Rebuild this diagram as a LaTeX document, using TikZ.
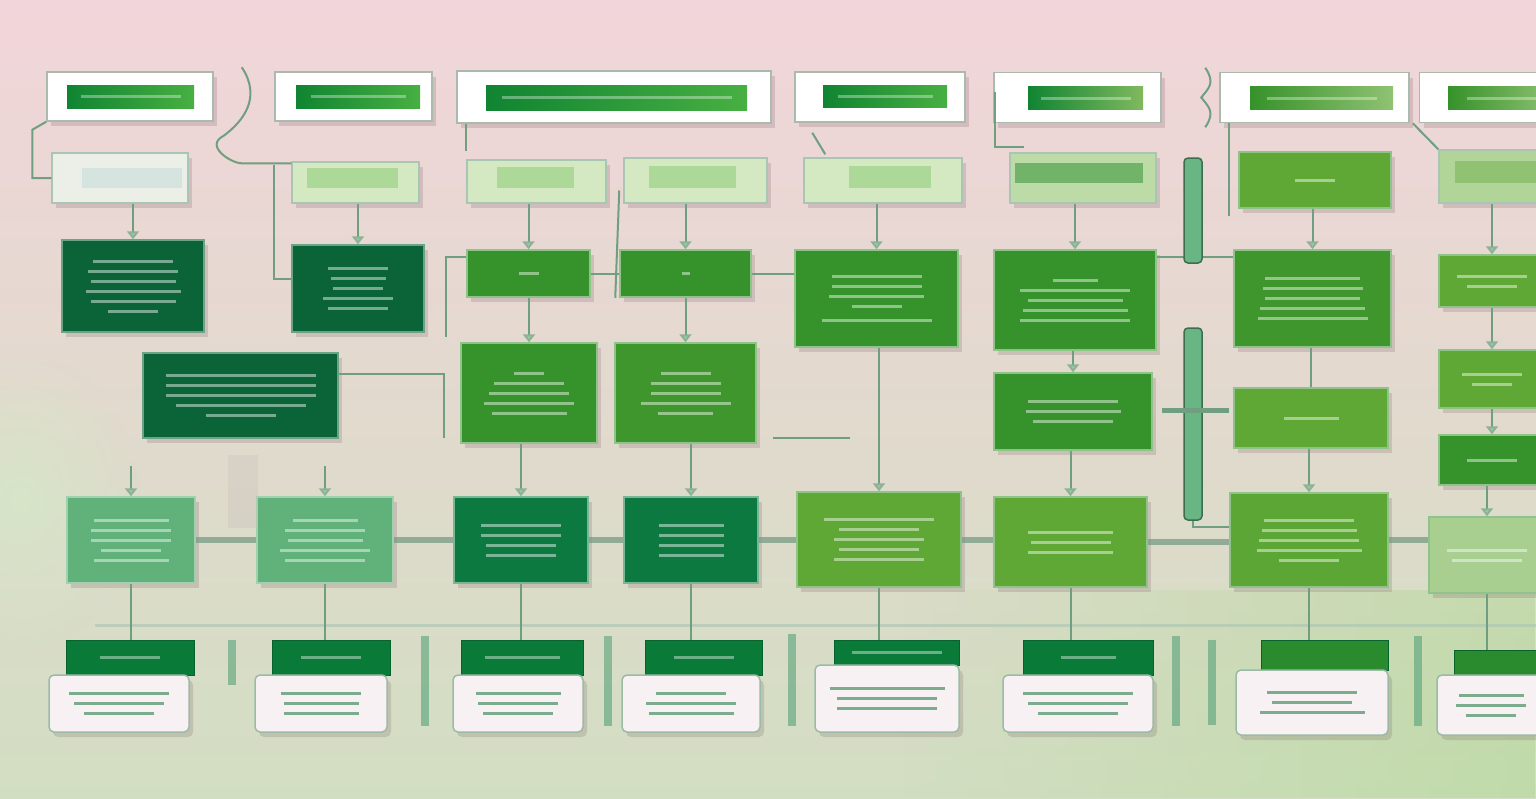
\documentclass[tikz,border=0pt]{standalone}
\usepackage{tikz}
\usetikzlibrary{calc,positioning,arrows.meta,shadows,fadings}

\definecolor{bgpink}{RGB}{242,213,218}
\definecolor{bgmid}{RGB}{236,221,214}
\definecolor{bggreen}{RGB}{210,222,194}
\definecolor{leafgreen}{RGB}{170,215,140}
\definecolor{haze}{RGB}{214,230,200}
\definecolor{frame}{RGB}{170,186,172}
\definecolor{barleft}{RGB}{16,132,50}
\definecolor{barright}{RGB}{72,176,66}
\definecolor{palegreen}{RGB}{212,232,194}
\definecolor{paleinner}{RGB}{172,216,152}
\definecolor{ghost}{RGB}{236,238,232}
\definecolor{ghostin}{RGB}{214,228,224}
\definecolor{dkteal}{RGB}{10,100,56}
\definecolor{grass}{RGB}{54,146,42}
\definecolor{ltgrass}{RGB}{96,168,54}
\definecolor{sage}{RGB}{96,178,122}
\definecolor{forest}{RGB}{12,122,64}
\definecolor{cardhead}{RGB}{10,122,56}
\definecolor{cardbody}{RGB}{247,241,243}
\definecolor{wire}{RGB}{112,158,128}
\definecolor{tipgreen}{RGB}{150,210,140}
\definecolor{fillertxt}{RGB}{110,165,130}
\definecolor{pillgreen}{RGB}{104,182,132}

\newcommand\fakeline[1]{\rule{#1pt}{3pt}}
\tikzfading[name=softglow, inner color=transparent!0, outer color=transparent!100]

\tikzset{
  sz/.style 2 args={minimum width=#1pt, minimum height=#2pt},
  box/.style={rectangle, inner sep=0pt, align=center,
    font=\fontsize{3}{10}\selectfont, text=white, text opacity=0.45,
    line width=1.5pt,
    drop shadow={shadow xshift=4pt, shadow yshift=-5pt, opacity=0.18, fill=black!70!magenta}},
  header/.style={box, fill=white, draw=frame},
  hbar/.style={rectangle, inner sep=0pt, font=\fontsize{3}{10}\selectfont,
    left color=barleft, right color=barright, text=white, text opacity=0.35},
  pale/.style={box, fill=palegreen, draw=wire!60},
  inner/.style={rectangle, inner sep=0pt, fill=paleinner},
  deep/.style={box, fill=dkteal, draw=dkteal!60!white},
  leafy/.style={box, fill=grass, draw=grass!55!white},
  soft/.style={box, fill=sage, draw=sage!60!white},
  dark/.style={box, fill=forest, draw=forest!55!white},
  cardtop/.style={rectangle, inner sep=0pt, fill=cardhead, draw=cardhead!80!black,
    line width=1pt, font=\fontsize{3}{10}\selectfont, text=white, text opacity=0.4},
  card/.style={box, rounded corners=5pt, fill=cardbody, draw=wire!70, text=fillertxt, text opacity=0.9},
  pill/.style={rectangle, rounded corners=4pt, fill=pillgreen, draw=pillgreen!60!black, line width=1.5pt},
  wire/.style={draw=wire, line width=2pt},
  link/.style={wire, -{Triangle[width=12pt,length=8pt,fill=tipgreen,color=wire!80]}},
  bridge/.style={draw=wire!80!gray, line width=6pt, opacity=0.7},
  bus/.style={draw=wire!60, line width=3pt, opacity=0.6},
  sep/.style={fill=forest!70!white, opacity=0.6}
}

\begin{document}
\begin{tikzpicture}[x=1pt,y=-1pt]
  \useasboundingbox (0,0) rectangle (1536,798);
  \clip (0,0) rectangle (1536,798);
  \shade[top color=bgpink, middle color=bgmid, bottom color=bggreen] (0,0) rectangle (1536,798);
  \fill[leafgreen, opacity=0.45, path fading=west] (900,590) rectangle (1536,798);
  \fill[haze, opacity=0.9, path fading=softglow] (20,500) ellipse (120 and 150);

  % top row
  \node[header, sz={166}{49}] (h1) at (130,96.5) {};
  \node[hbar, sz={127}{23}] (h1b) at (130.5,96.5) {\fakeline{100}};
  \node[header, sz={157}{49}] (h2) at (353.5,96.5) {};
  \node[hbar, sz={124}{23}] (h2b) at (358,96.5) {\fakeline{95}};
  \node[header, sz={314}{52}] (h3) at (614,97) {};
  \node[hbar, sz={261}{25}] (h3b) at (616.5,97.5) {\fakeline{230}};
  \node[header, sz={170}{50}] (h4) at (880,97) {};
  \node[hbar, sz={124}{22}] (h4b) at (885,96.5) {\fakeline{95}};
  \node[header, sz={167}{50}] (h5) at (1077.5,97.5) {};
  \node[hbar, sz={115}{23}, right color=ltgrass!80!white] (h5b) at (1085.5,98) {\fakeline{90}};
  \node[header, sz={189}{50}] (h6) at (1314.5,97.5) {};
  \node[hbar, sz={143}{23}, left color=grass, right color=ltgrass!70!white] (h6b) at (1321.5,98) {\fakeline{110}};
  \node[header, sz={125}{50}] (h7) at (1482,97.5) {};
  \node[hbar, sz={108}{23}, left color=grass, right color=ltgrass!70!white] (h7b) at (1502,98) {\fakeline{70}};

  % second row
  \node[pale, fill=ghost, sz={136}{50}] (r2a) at (120,178) {};
  \node[inner, fill=ghostin, sz={100}{20}] (r2ai) at (132,178) {};
  \node[pale, sz={127}{41}] (r2b) at (355.5,182.5) {};
  \node[inner, sz={91}{20}] (r2bi) at (352.5,178) {};
  \node[pale, sz={139}{43}] (r2c) at (536.5,181.5) {};
  \node[inner, sz={77}{21}] (r2ci) at (535.5,177.5) {};
  \node[pale, sz={143}{45}] (r2d) at (695.5,180.5) {};
  \node[inner, sz={87}{22}] (r2di) at (692.5,177) {};
  \node[pale, sz={158}{45}] (r2e) at (883,180.5) {};
  \node[inner, sz={82}{22}] (r2ei) at (890,177) {};
  \node[pale, fill=palegreen!80!ltgrass, sz={146}{50}] (r2f) at (1083,178) {};
  \node[inner, fill=grass!70!white, sz={128}{20}] (r2fi) at (1079,173) {};
  \node[leafy, fill=ltgrass, sz={152}{56}] (r2g) at (1315,180) {\fakeline{40}};
  \node[pale, fill=palegreen!70!ltgrass, sz={106}{53}] (r2h) at (1492,176.5) {};
  \node[inner, fill=ltgrass!70!white, sz={90}{22}] (r2hi) at (1500,172) {};

  % third row
  \node[deep, sz={142}{92}] (r3a) at (133,286) {\fakeline{80}\\\fakeline{90}\\\fakeline{85}\\\fakeline{95}\\\fakeline{85}\\\fakeline{50}};
  \node[deep, sz={132}{87}] (r3b) at (358,288.5) {\fakeline{60}\\\fakeline{55}\\\fakeline{50}\\\fakeline{70}\\\fakeline{60}};
  \node[leafy, sz={123}{47}] (r3c) at (528.5,273.5) {\fakeline{20}};
  \node[leafy, sz={131}{47}] (r3d) at (685.5,273.5) {\fakeline{8}};
  \node[leafy, sz={163}{97}] (r3e) at (876.5,298.5) {\fakeline{90}\\\fakeline{90}\\\fakeline{95}\\\fakeline{50}\\[4pt]\fakeline{110}};
  \node[leafy, sz={162}{100}] (r3f) at (1075,300) {\fakeline{45}\\\fakeline{110}\\\fakeline{95}\\\fakeline{105}\\\fakeline{110}};
  \node[leafy, fill=grass!80!ltgrass, sz={157}{97}] (r3g) at (1312.5,298.5) {\fakeline{95}\\\fakeline{100}\\\fakeline{95}\\\fakeline{105}\\\fakeline{110}};
  \node[leafy, fill=ltgrass, sz={106}{52}] (r3h) at (1492,281) {\fakeline{70}\\\fakeline{50}};

  % fourth row
  \node[deep, sz={195}{85}] (r4a) at (240.5,395.5) {\fakeline{150}\\\fakeline{150}\\\fakeline{150}\\\fakeline{130}\\\fakeline{70}};
  \node[leafy, sz={136}{100}] (r4b) at (529,393) {\fakeline{30}\\\fakeline{70}\\\fakeline{80}\\\fakeline{90}\\\fakeline{75}};
  \node[leafy, fill=grass!80!ltgrass, sz={141}{100}] (r4c) at (685.5,393) {\fakeline{50}\\\fakeline{70}\\\fakeline{70}\\\fakeline{90}\\\fakeline{55}};
  \node[leafy, sz={158}{77}] (r4d) at (1073,411.5) {\fakeline{90}\\\fakeline{95}\\\fakeline{80}};
  \node[leafy, fill=ltgrass, sz={154}{60}] (r4e) at (1311,418) {\fakeline{55}};
  \node[leafy, fill=ltgrass, sz={106}{58}] (r4f) at (1492,379) {\fakeline{60}\\\fakeline{40}};
  \node[leafy, sz={106}{50}] (r4g) at (1492,460) {\fakeline{50}};

  % fifth row
  \node[soft, sz={128}{86}] (r5a) at (131,540) {\fakeline{75}\\\fakeline{80}\\\fakeline{80}\\\fakeline{60}\\\fakeline{75}};
  \node[soft, sz={136}{86}] (r5b) at (325,540) {\fakeline{65}\\\fakeline{80}\\\fakeline{75}\\\fakeline{90}\\\fakeline{80}};
  \node[dark, sz={134}{86}] (r5c) at (521,540) {\fakeline{80}\\\fakeline{80}\\\fakeline{70}\\\fakeline{70}};
  \node[dark, sz={134}{86}] (r5d) at (691,540) {\fakeline{65}\\\fakeline{65}\\\fakeline{65}\\\fakeline{65}};
  \node[leafy, fill=ltgrass, sz={164}{95}] (r5e) at (879,539.5) {\fakeline{110}\\\fakeline{80}\\\fakeline{90}\\\fakeline{80}\\\fakeline{90}};
  \node[leafy, fill=ltgrass, sz={153}{90}] (r5f) at (1070.5,542) {\fakeline{85}\\\fakeline{80}\\\fakeline{85}};
  \node[leafy, fill=ltgrass!90!grass, sz={158}{94}] (r5g) at (1309,540) {\fakeline{90}\\\fakeline{95}\\\fakeline{100}\\\fakeline{105}\\\fakeline{60}};
  \node[leafy, fill=ltgrass!55!white, sz={116}{76}] (r5h) at (1487,555) {\fakeline{80}\\\fakeline{70}};

  % pillars
  \draw[wire] ($(r3f.north east)+(0,8)$) -- ($(r3g.north west)+(0,8)$);
  \node[pill, sz={18}{105}] (p1) at (1193,210.5) {};
  \node[pill, sz={18}{192}] (p2) at (1193,424) {};
  \draw[wire, line width=5pt] ($(p2.west)+(-21,-14)$) -- ($(p2.east)+(26,-14)$);
  \draw[wire] (p2.south) |- ($(r5g.north west)+(0,35)$);

  % connectors up top
  \draw[wire] (h1.south west) -- ++(-14,8) |- (r2a.west);
  \draw[wire] ($(h1.north east)+(28,-4)$) .. controls +(20,30) and +(20,-15) .. ($(h1.south east)+(10,14)$)
    .. controls +(-20,10) and +(-10,0) .. ($(r2b.north west)+(-50,2)$) -- ($(r2b.north west)+(0,2)$);
  \draw[wire] ($(r2b.north west)+(-17,4)$) |- ($(r3b.north west)+(0,35)$);
  \draw[wire] ($(h3.south west)+(10,0)$) -- ($(r2c.north west)+(0,-8)$);
  \draw[wire] ($(h4.south west)+(18,10)$) -- ($(r2e.north west)+(22,-3)$);
  \draw[wire] ($(h5.west)+(2,-6)$) |- ($(r2f.north west)+(15,-5)$);
  \draw[wire] ($(h6.north west)+(-14,-4)$) .. controls +(10,15) and +(8,-10) .. ($(h6.west)+(-18,0)$)
    .. controls +(8,10) and +(10,-15) .. ($(h6.south west)+(-14,4)$);
  \draw[wire] ($(h6.south west)+(10,0)$) -- ($(r2g.north west)+(-9,65)$);
  \draw[wire] ($(h6.south east)+(3,0)$) -- (r2h.north west);

  \foreach \a/\b in {r2a/r3a, r2b/r3b, r2c/r3c, r2d/r3d, r2e/r3e, r2f/r3f, r2g/r3g, r2h/r3h}
    \draw[link] (\b.north |- \a.south) -- (\b.north);

  % side lines
  \draw[wire] (r3c.east) -- (r3d.west);
  \draw[wire] (r3d.east) -- (r3d.east -| r3e.west);
  \draw[wire] ($(r3c.north west)+(0,8)$) -- ++(-20,0) -- ++(0,80);
  \draw[wire] ($(r2d.west)+(-4,10)$) -- ($(r3d.south west)+(-4,0)$);
  \draw[wire] ($(r4a.north east)+(0,22)$) -| ($(r4b.south west)+(-16,-6)$);
  \draw[wire] ($(r4c.south east)+(16,-6)$) -- ++(77,0);

  % middle links
  \foreach \a/\b in {r3c/r4b, r3d/r4c, r3f/r4d, r3h/r4f, r4b/r5c, r4c/r5d, r4d/r5f, r4e/r5g, r4f/r4g, r4g/r5h, r3e/r5e}
    \draw[link] (\b.north |- \a.south) -- (\b.north);
  \draw[wire] (r4e.north |- r3g.south) -- (r4e.north);
  \draw[link] ($(r5a.north)+(0,-30)$) -- (r5a.north);
  \draw[link] ($(r5b.north)+(0,-30)$) -- (r5b.north);
  \fill[bgmid!70!gray, opacity=0.35] (228,455) rectangle (258,528);

  \foreach \a/\b in {r5a/r5b, r5b/r5c, r5c/r5d, r5d/r5e, r5e/r5f, r5f/r5g, r5g/r5h}
    \draw[bridge] (\a.east) -- (\a.east -| \b.west);

  % bottom cards
  \coordinate (busL) at (95,625);
  \coordinate (busR) at (1536,625);
  \draw[bus] (busL) -- (busR);
  \foreach \x/\y/\h in {232/640/45, 425/636/90, 608/636/90, 792/634/92, 1176/636/90, 1212/640/85, 1418/636/90}
    \fill[sep] (\x-4,\y) rectangle (\x+4,\y+\h);

  \node[cardtop, sz={128}{35}] (c1h) at (130,657.5) {\fakeline{60}};
  \node[card, sz={140}{57}] (c1) at (119,703.5) {\fakeline{100}\\\fakeline{90}\\\fakeline{70}};
  \node[cardtop, sz={118}{35}] (c2h) at (331,657.5) {\fakeline{60}};
  \node[card, sz={132}{57}] (c2) at (321,703.5) {\fakeline{80}\\\fakeline{75}\\\fakeline{75}};
  \node[cardtop, sz={122}{35}] (c3h) at (522,657.5) {\fakeline{75}};
  \node[card, sz={130}{57}] (c3) at (518,703.5) {\fakeline{85}\\\fakeline{80}\\\fakeline{70}};
  \node[cardtop, sz={117}{35}] (c4h) at (703.5,657.5) {\fakeline{60}};
  \node[card, sz={138}{57}] (c4) at (691,703.5) {\fakeline{70}\\\fakeline{90}\\\fakeline{85}};
  \node[cardtop, sz={125}{25}] (c5h) at (896.5,652.5) {\fakeline{90}};
  \node[card, sz={144}{67}] (c5) at (887,698.5) {\fakeline{115}\\\fakeline{100}\\\fakeline{100}};
  \node[cardtop, sz={130}{35}] (c6h) at (1088,657.5) {\fakeline{55}};
  \node[card, sz={150}{57}] (c6) at (1078,703.5) {\fakeline{110}\\\fakeline{100}\\\fakeline{80}};
  \node[cardtop, fill=grass!70!cardhead, sz={127}{30}] (c7h) at (1324.5,655) {};
  \node[card, sz={152}{65}] (c7) at (1312,702.5) {\fakeline{90}\\\fakeline{80}\\\fakeline{105}};
  \node[cardtop, fill=grass!70!cardhead, sz={91}{25}] (c8h) at (1499.5,662.5) {};
  \node[card, sz={108}{60}] (c8) at (1491,705) {\fakeline{65}\\\fakeline{70}\\\fakeline{50}};

  \foreach \a/\b in {r5a/c1h, r5b/c2h, r5c/c3h, r5d/c4h, r5e/c5h, r5f/c6h, r5g/c7h, r5h/c8h}
    \draw[wire] (\a.south) -- (\a.south |- \b.north);
\end{tikzpicture}
\end{document}
